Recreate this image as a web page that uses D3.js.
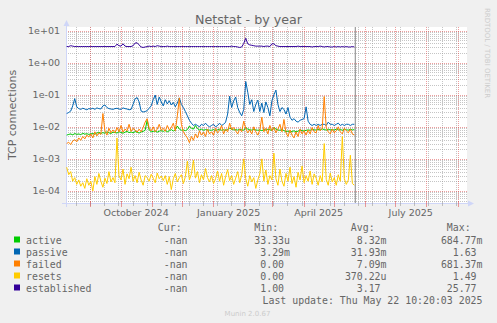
<!DOCTYPE html>
<html>
<head>
<meta charset="utf-8">
<script src="https://cdn.jsdelivr.net/npm/d3@7"></script>
<style>
  html, body { margin: 0; padding: 0; background: #F0F0F0; }
  svg { display: block; }
  text { font-family: "DejaVu Sans", sans-serif; fill: #666; }
  .mono { font-family: "DejaVu Sans Mono", monospace; }
</style>
</head>
<body>
<svg id="chart" width="497" height="323"></svg>
<script>
// Daily samples, every second day starting 2024-08-08
const firstDay = Date.UTC(2024, 7, 8, 12);
const lastUpdate = Date.UTC(2025, 4, 22, 10, 20, 3);

const seriesNames = ["active", "passive", "failed", "resets", "established"];
const seriesColors = ["#00CC00", "#0066B3", "#FF8000", "#FFCC00", "#330099"];

const active = [
  0.0055, 0.0058, 0.0060, 0.0056, 0.0062, 0.0058, 0.0060, 0.0057, 0.0063, 0.0059, 0.0061, 0.0058,
  0.0060, 0.0062, 0.0059, 0.0064, 0.0068, 0.0062, 0.0066, 0.0063, 0.0070, 0.0065, 0.0062, 0.0068,
  0.0066, 0.0064, 0.0070, 0.0067, 0.0063, 0.0068, 0.0072, 0.0066, 0.0069, 0.0065, 0.0071, 0.0068,
  0.0064, 0.0069, 0.0072, 0.0078, 0.0160, 0.0080, 0.0070, 0.0072, 0.0074, 0.0068, 0.0073, 0.0076,
  0.0072, 0.0078, 0.0070, 0.0075, 0.0082, 0.0074, 0.0080, 0.0106, 0.0085, 0.0078, 0.0080, 0.0076,
  0.0082, 0.0106, 0.0090, 0.0085, 0.0110, 0.0088, 0.0080, 0.0084, 0.0078, 0.0082, 0.0080, 0.0079,
  0.0078, 0.0082, 0.0076, 0.0080, 0.0084, 0.0078, 0.0081, 0.0077, 0.0083, 0.0090, 0.0086, 0.0080,
  0.0082, 0.0079, 0.0084, 0.0080, 0.0078, 0.0095, 0.0085, 0.0081, 0.0079, 0.0083, 0.0080, 0.0078,
  0.0080, 0.0076, 0.0082, 0.0079, 0.0084, 0.0081, 0.0077, 0.0095, 0.0085, 0.0080, 0.0078, 0.0082,
  0.0076, 0.0070, 0.0074, 0.0068, 0.0072, 0.0075, 0.0070, 0.0073, 0.0080, 0.0076, 0.0074, 0.0078,
  0.0080, 0.0078, 0.0085, 0.0081, 0.0079, 0.0083, 0.0080, 0.0086, 0.0082, 0.0079, 0.0084, 0.0080,
  0.0082, 0.0079, 0.0085, 0.0080, 0.0083, 0.0078, 0.0086, 0.0081, 0.0079, 0.0084, 0.0080, 0.0082
];

const passive = [
  0.026, 0.028, 0.031, 0.045, 0.076, 0.042, 0.037, 0.035, 0.038, 0.036, 0.034, 0.037,
  0.036, 0.038, 0.035, 0.039, 0.037, 0.036, 0.045, 0.048, 0.040, 0.037, 0.036, 0.035,
  0.037, 0.038, 0.036, 0.035, 0.039, 0.037, 0.036, 0.034, 0.035, 0.050, 0.075, 0.082,
  0.060, 0.031, 0.029, 0.030, 0.032, 0.038, 0.045, 0.070, 0.098, 0.050, 0.085, 0.060,
  0.045, 0.070, 0.052, 0.065, 0.048, 0.058, 0.042, 0.055, 0.080, 0.050, 0.040, 0.030,
  0.022, 0.016, 0.013, 0.011, 0.012, 0.011, 0.010, 0.012, 0.011, 0.013, 0.011, 0.010,
  0.011, 0.012, 0.010, 0.011, 0.013, 0.011, 0.012, 0.014, 0.025, 0.090, 0.040, 0.065,
  0.085, 0.040, 0.028, 0.022, 0.035, 0.260, 0.120, 0.050, 0.070, 0.030, 0.050, 0.068,
  0.030, 0.055, 0.028, 0.060, 0.040, 0.022, 0.065, 0.100, 0.140, 0.050, 0.030, 0.040,
  0.035, 0.025, 0.040, 0.020, 0.016, 0.018, 0.015, 0.014, 0.016, 0.017, 0.018, 0.042,
  0.015, 0.012, 0.011, 0.012, 0.011, 0.012, 0.011, 0.012, 0.012, 0.011, 0.014, 0.012,
  0.012, 0.011, 0.012, 0.013, 0.011, 0.012, 0.011, 0.012, 0.012, 0.011, 0.012, 0.012
];

const failed = [
  0.0030, 0.0033, 0.0028, 0.0036, 0.0040, 0.0034, 0.0045, 0.0038, 0.0050, 0.0042, 0.0055, 0.0048,
  0.0060, 0.0045, 0.0070, 0.0052, 0.0065, 0.0058, 0.0260, 0.0075, 0.0055, 0.0090, 0.0065, 0.0080,
  0.0065, 0.0095, 0.0070, 0.0110, 0.0068, 0.0085, 0.0075, 0.0120, 0.0072, 0.0090, 0.0080, 0.0068,
  0.0085, 0.0070, 0.0095, 0.0140, 0.0180, 0.0090, 0.0075, 0.0100, 0.0070, 0.0085, 0.0120, 0.0078,
  0.0090, 0.0072, 0.0110, 0.0080, 0.0095, 0.0130, 0.0075, 0.0220, 0.0800, 0.0120, 0.0070, 0.0055,
  0.0045, 0.0032, 0.0050, 0.0038, 0.0060, 0.0045, 0.0075, 0.0055, 0.0068, 0.0050, 0.0085, 0.0060,
  0.0070, 0.0055, 0.0090, 0.0065, 0.0075, 0.0110, 0.0060, 0.0085, 0.0070, 0.0130, 0.0080, 0.0095,
  0.0075, 0.0060, 0.0085, 0.0070, 0.0150, 0.0090, 0.0065, 0.0080, 0.0060, 0.0100, 0.0070, 0.0055,
  0.0080, 0.0200, 0.0070, 0.0090, 0.0060, 0.0110, 0.0075, 0.0095, 0.0065, 0.0085, 0.0120, 0.0070,
  0.0170, 0.0065, 0.0050, 0.0080, 0.0055, 0.0045, 0.0070, 0.0050, 0.0085, 0.0060, 0.0075, 0.0055,
  0.0080, 0.0060, 0.0095, 0.0070, 0.0065, 0.0110, 0.0075, 0.0090, 0.0880, 0.0095, 0.0070, 0.0060,
  0.0085, 0.0065, 0.0075, 0.0100, 0.0070, 0.0060, 0.0090, 0.0075, 0.0065, 0.0085, 0.0060, 0.0055
];

const resets = [
  5.5e-4, 3.2e-4, 4.0e-4, 2.0e-4, 2.6e-4, 1.6e-4, 2.2e-4, 1.4e-4, 1.8e-4, 1.2e-4, 2.4e-4, 1.5e-4,
  2.0e-4, 1.0e-4, 2.8e-4, 1.6e-4, 3.5e-4, 2.0e-4, 1.3e-4, 2.5e-4, 1.7e-4, 4.0e-4, 1.9e-4, 2.6e-4,
  1.8e-4, 4.5e-3, 3.0e-4, 2.2e-4, 4.8e-4, 1.6e-4, 3.4e-4, 2.4e-4, 5.5e-4, 2.0e-4, 3.0e-4, 1.8e-4,
  3.8e-4, 2.2e-4, 1.5e-4, 3.0e-4, 2.6e-4, 2.0e-4, 3.3e-4, 2.5e-4, 1.8e-4, 3.6e-4, 2.4e-4, 2.9e-4,
  2.1e-4, 3.0e-4, 1.6e-4, 2.8e-4, 1.1e-4, 2.4e-4, 3.5e-4, 1.9e-4, 2.6e-4, 3.2e-4, 1.7e-4, 2.8e-4,
  8.5e-4, 2.2e-4, 3.4e-4, 9.0e-4, 2.5e-4, 4.0e-4, 1.8e-4, 3.2e-4, 2.2e-4, 5.0e-4, 2.6e-4, 1.9e-4,
  3.0e-4, 1.7e-4, 2.4e-4, 4.2e-4, 2.0e-4, 3.5e-4, 1.5e-4, 2.8e-4, 4.6e-4, 2.1e-4, 3.0e-4, 1.6e-4,
  2.5e-4, 4.0e-4, 1.8e-4, 3.2e-4, 1.0e-3, 2.4e-4, 1.4e-4, 3.0e-4, 1.9e-4, 2.6e-4, 1.2e-4, 2.2e-4,
  3.4e-4, 1.0e-3, 2.0e-4, 4.5e-4, 1.6e-4, 3.0e-4, 2.2e-4, 1.5e-3, 2.4e-4, 1.5e-4, 4.8e-4, 2.0e-4,
  1.4e-4, 3.5e-4, 2.0e-4, 5.5e-4, 1.7e-4, 2.8e-4, 1.3e-4, 3.8e-4, 2.2e-4, 6.0e-4, 1.8e-4, 3.0e-4,
  2.0e-4, 4.2e-4, 1.6e-4, 3.4e-4, 2.5e-4, 1.5e-4, 3.0e-4, 1.9e-4, 3.0e-3, 2.3e-4, 1.5e-4, 3.6e-4,
  1.9e-4, 2.6e-4, 1.5e-4, 3.2e-4, 2.0e-4, 5.0e-3, 2.4e-4, 1.6e-4, 2.2e-4, 1.3e-3, 1.7e-4, 1.5e-4
];

const established = [
  3.2, 3.2, 3.4, 3.3, 3.2, 3.2, 3.2, 3.2, 3.2, 3.2, 3.2, 3.2,
  3.2, 3.2, 3.2, 3.2, 3.2, 3.2, 3.2, 3.2, 3.2, 3.2, 3.2, 3.2,
  3.2, 3.8, 3.4, 3.3, 3.9, 3.3, 3.2, 3.2, 3.2, 3.4, 4.1, 4.2,
  3.6, 3.1, 3.0, 3.1, 3.2, 3.3, 3.2, 3.3, 3.2, 3.4, 3.3, 3.2,
  3.2, 3.2, 3.3, 3.2, 3.2, 3.2, 3.2, 3.2, 3.2, 3.2, 3.2, 3.2,
  3.2, 3.2, 3.2, 3.2, 3.2, 3.2, 3.2, 3.2, 3.2, 3.2, 3.2, 3.2,
  3.2, 3.2, 3.2, 3.2, 3.2, 3.2, 3.2, 3.2, 3.2, 3.2, 3.3, 3.2,
  3.2, 3.1, 3.0, 3.1, 4.0, 5.8, 3.9, 3.6, 3.5, 3.4, 3.3, 3.3,
  3.3, 3.3, 3.2, 3.3, 3.3, 3.2, 3.9, 3.9, 3.4, 3.3, 3.2, 3.2,
  3.2, 3.2, 3.2, 3.2, 3.2, 3.2, 3.2, 3.3, 3.2, 3.2, 3.2, 3.2,
  3.2, 3.2, 3.1, 3.2, 3.2, 3.2, 3.3, 3.2, 3.1, 3.2, 3.2, 3.1,
  3.1, 3.2, 3.1, 3.2, 3.1, 3.2, 3.1, 3.2, 3.1, 3.1, 3.2, 3.1
];

const legendCur = ["-nan", "-nan", "-nan", "-nan", "-nan"];
const legendMin = ["33.33u", "3.29m", "0.00", "0.00", "1.00"];
const legendAvg = ["8.32m", "31.93m", "7.09m", "370.22u", "3.17"];
const legendMax = ["684.77m", "1.63", "681.37m", "1.49", "25.77"];

const yTickValues = [1e-4, 1e-3, 1e-2, 1e-1, 1, 10];
const yTickLabels = ["1e-04", "1e-03", "1e-02", "1e-01", "1e+00", "1e+01"];
const xLabelMonths = [Date.UTC(2024, 9, 1), Date.UTC(2025, 0, 1), Date.UTC(2025, 3, 1), Date.UTC(2025, 6, 1)];
const xTickLabels = ["October 2024", "January 2025", "April 2025", "July 2025"];

// ---- layout ----
const svg = d3.select("#chart");
const pL = 66, pR = 466, pT = 27, pB = 203;

const x = d3.scaleUtc()
  .domain([Date.UTC(2024, 9, 1), Date.UTC(2025, 8, 1)])
  .range([120.5, 457.5]);
const y = d3.scaleLog().domain([1e-4, 10]).range([190.9, 30.7]);

const tStart = x.invert(pL), tEnd = x.invert(pR);
const days = d3.range(active.length).map(i => d3.utcDay.offset(new Date(firstDay), 2 * i));

// canvas
svg.append("rect").attr("x", pL).attr("y", pT)
  .attr("width", pR - pL + 1).attr("height", pB - pT)
  .attr("fill", "#FFFFFF");

const grid = svg.append("g").attr("shape-rendering", "crispEdges");
const minorColor = "rgba(150,150,150,0.55)";
const majorColor = "rgba(222,79,79,0.55)";

// minor horizontal grid (2..9 per decade)
const minorY = [];
for (let e = -5; e <= 1; e++) {
  for (let m = 2; m <= 9; m++) {
    const v = m * Math.pow(10, e);
    const py = y(v);
    if (py >= pT && py <= pB) minorY.push(v);
  }
}
grid.selectAll(".hminor").data(minorY).join("line")
  .attr("x1", pL).attr("x2", pR + 1)
  .attr("y1", d => Math.round(y(d)) + 0.5).attr("y2", d => Math.round(y(d)) + 0.5)
  .attr("stroke", minorColor).attr("stroke-dasharray", "1,1");

// minor vertical grid (two-week steps)
const refWeek = Date.UTC(2025, 4, 25);
const minorX = d3.range(-40, 20).map(k => d3.utcDay.offset(new Date(refWeek), 14 * k))
  .filter(d => d >= tStart && d <= tEnd);
grid.selectAll(".vminor").data(minorX).join("line")
  .attr("x1", d => Math.round(x(d)) + 0.5).attr("x2", d => Math.round(x(d)) + 0.5)
  .attr("y1", pT).attr("y2", pB)
  .attr("stroke", minorColor).attr("stroke-dasharray", "1,1");

// major grid
grid.selectAll(".hmajor").data(yTickValues).join("line")
  .attr("x1", pL).attr("x2", pR + 1)
  .attr("y1", d => Math.round(y(d)) + 0.5).attr("y2", d => Math.round(y(d)) + 0.5)
  .attr("stroke", majorColor).attr("stroke-dasharray", "1,1");
const months = d3.utcMonth.range(tStart, tEnd);
grid.selectAll(".vmajor").data(months).join("line")
  .attr("x1", d => Math.round(x(d)) + 0.5).attr("x2", d => Math.round(x(d)) + 0.5)
  .attr("y1", pT).attr("y2", pB)
  .attr("stroke", majorColor).attr("stroke-dasharray", "1,1");

// axes
const axisColor = "#CFD6F8";
grid.append("line").attr("x1", pL - 4).attr("x2", pR + 4)
  .attr("y1", pB + 0.5).attr("y2", pB + 0.5).attr("stroke", axisColor);
grid.append("line").attr("x1", pL + 0.5).attr("x2", pL + 0.5)
  .attr("y1", pB + 4).attr("y2", pT - 4).attr("stroke", axisColor);
svg.append("path").attr("d", `M${pR + 2},${pB - 2.5}L${pR + 8},${pB + 0.5}L${pR + 2},${pB + 3.5}Z`)
  .attr("fill", axisColor);
svg.append("path").attr("d", `M${pL - 2.5},${pT - 1}L${pL + 0.5},${pT - 7}L${pL + 3.5},${pT - 1}Z`)
  .attr("fill", axisColor);

// tick marks on the time axis
grid.selectAll(".tminor").data(minorX).join("line")
  .attr("x1", d => Math.round(x(d)) + 0.5).attr("x2", d => Math.round(x(d)) + 0.5)
  .attr("y1", pB - 1).attr("y2", pB + 3).attr("stroke", minorColor);
grid.selectAll(".tmajor").data(months).join("line")
  .attr("x1", d => Math.round(x(d)) + 0.5).attr("x2", d => Math.round(x(d)) + 0.5)
  .attr("y1", pB - 2).attr("y2", pB + 4).attr("stroke", majorColor);

// series lines
const clip = svg.append("defs").append("clipPath").attr("id", "plotClip");
clip.append("rect").attr("x", pL).attr("y", pT).attr("width", pR - pL + 1).attr("height", pB - pT);

const allSeries = [active, passive, failed, resets, established];
const line = d3.line().x((d, i) => x(days[i])).y(d => y(d));
const plot = svg.append("g").attr("clip-path", "url(#plotClip)");
allSeries.forEach((vals, k) => {
  plot.append("path").datum(vals)
    .attr("d", line)
    .attr("fill", "none")
    .attr("stroke", seriesColors[k])
    .attr("stroke-width", 1)
    .attr("stroke-linejoin", "round");
});

// current time marker
svg.append("line")
  .attr("x1", x(new Date(lastUpdate))).attr("x2", x(new Date(lastUpdate)))
  .attr("y1", pT).attr("y2", pB)
  .attr("stroke", "#999999").attr("stroke-width", 1.2);

// y tick labels
svg.selectAll(".ylab").data(yTickValues).join("text")
  .attr("x", 60).attr("y", d => y(d)).attr("dy", "0.36em")
  .attr("text-anchor", "end").style("font-size", "9.5px")
  .text((d, i) => yTickLabels[i]);

// x tick labels, centred in their month
svg.selectAll(".xlab").data(xLabelMonths).join("text")
  .attr("x", d => (x(new Date(d)) + x(d3.utcMonth.offset(new Date(d), 1))) / 2)
  .attr("y", 216).attr("text-anchor", "middle").style("font-size", "9.5px")
  .text((d, i) => xTickLabels[i]);

// title and axis label
svg.append("text").attr("x", 248.5).attr("y", 24).attr("text-anchor", "middle")
  .style("font-size", "12.7px").text("Netstat - by year");
svg.append("text").attr("transform", `translate(15.5,${(pT + pB) / 2}) rotate(-90)`)
  .attr("text-anchor", "middle").style("font-size", "11px").text("TCP connections");
svg.append("text").attr("transform", "translate(484.5,53) rotate(90)")
  .attr("text-anchor", "middle").style("font-size", "7px").style("fill", "#CCCCCC")
  .text("RRDTOOL / TOBI OETIKER");

// legend
const charW = 5.96;
const colEnds = [193.5, 290, 386.5, 482.5];
const headers = ["Cur:", "Min:", "Avg:", "Max:"];
const legendFont = "9.9px";
const rowY = d3.range(5).map(i => 243.5 + 12 * i);

headers.forEach((h, c) => {
  svg.append("text").attr("class", "mono").attr("x", colEnds[c] - 2 * charW).attr("y", 231)
    .attr("text-anchor", "end").style("font-size", legendFont).text(h);
});
const cols = [legendCur, legendMin, legendAvg, legendMax];
seriesNames.forEach((name, r) => {
  svg.append("rect").attr("x", 14).attr("y", rowY[r] - 7).attr("width", 6).attr("height", 6)
    .attr("fill", seriesColors[r]);
  svg.append("text").attr("class", "mono").attr("x", 26).attr("y", rowY[r])
    .style("font-size", legendFont).text(name);
  cols.forEach((col, c) => {
    const v = col[r];
    const hasUnit = /[a-zA-Z]$/.test(v) && v !== "-nan";
    svg.append("text").attr("class", "mono")
      .attr("x", colEnds[c] - (hasUnit ? 0 : charW)).attr("y", rowY[r])
      .attr("text-anchor", "end").style("font-size", legendFont).text(v);
  });
});
svg.append("text").attr("class", "mono").attr("x", 482.5).attr("y", 303.5)
  .attr("text-anchor", "end").style("font-size", legendFont)
  .text("Last update: Thu May 22 10:20:03 2025");
svg.append("text").attr("x", 247.5).attr("y", 316).attr("text-anchor", "middle")
  .style("font-size", "7px").style("fill", "#CCCCCC").text("Munin 2.0.67");
</script>
</body>
</html>
